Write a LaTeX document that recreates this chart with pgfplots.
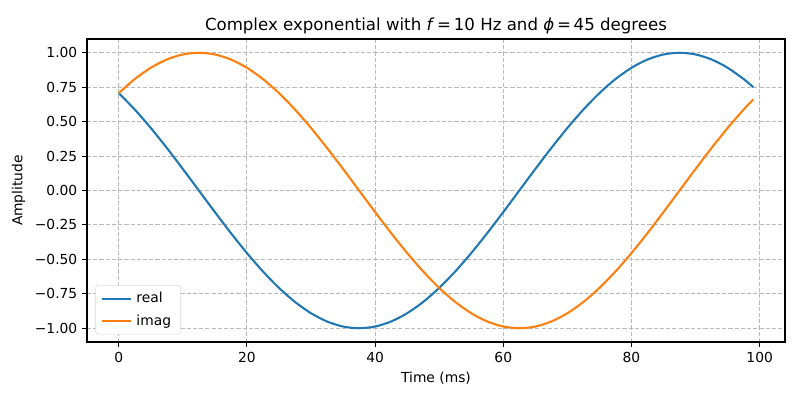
\documentclass[border=0pt]{standalone}
\usepackage{pgfplots}
\pgfplotsset{compat=1.18}
\usepackage{fontspec}
\setmainfont{DejaVu Sans}
\definecolor{tabblue}{HTML}{1F77B4}
\definecolor{taborange}{HTML}{FF7F0E}
\begin{document}
\begin{tikzpicture}
\path (-0.87in,-0.58in) rectangle (7.13in,3.42in);
\begin{axis}[
  at={(0,0)}, anchor=south west,
  scale only axis, width=6.98in, height=3.03in,
  xmin=-4.95, xmax=103.95, ymin=-1.1, ymax=1.1,
  xtick={0,20,40,60,80,100},
  ytick={-1,-0.75,-0.5,-0.25,0,0.25,0.5,0.75,1},
  yticklabels={−1.00,−0.75,−0.50,−0.25,0.00,0.25,0.50,0.75,1.00},
  /pgf/number format/assume math mode=true,
  tick label style={font=\fontsize{10}{12}\selectfont},
  label style={font=\fontsize{10}{12}\selectfont},
  title style={font=\fontsize{12}{14}\selectfont, yshift=-6pt},
  title={Complex exponential with \textit{f}\,=\,10 Hz and \textit{ϕ}\,=\,45 degrees},
  xlabel={Time (ms)}, ylabel={Amplitude},
  tick align=outside, tick pos=lower, major tick length=3.5pt,
  every tick/.style={black, line width=0.8pt},
  axis line style={line width=0.8pt},
  grid=major,
  major grid style={dashed, color=gray!55, line width=0.8pt, dash pattern=on 3pt off 1.5pt},
  legend style={at={(0.012,0.025)}, anchor=south west, draw=gray!30, rounded corners=2pt,
    font=\fontsize{10}{12}\selectfont, inner xsep=4pt, inner ysep=3pt, row sep=3pt,
    nodes={inner xsep=3pt}},
  legend cell align=left,
  legend image code/.code={\draw[#1] (0pt,0pt) -- (21pt,0pt);},
]
\addplot[color=tabblue, line width=1.5pt, smooth, tension=0.5] coordinates {
(0,0.70711)(2.5,0.58779)(5,0.45399)(7.5,0.30902)(10,0.15643)(12.5,0)(15,-0.15643)(17.5,-0.30902)(20,-0.45399)(22.5,-0.58779)
(25,-0.70711)(27.5,-0.80902)(30,-0.89101)(32.5,-0.95106)(35,-0.98769)(37.5,-1)(40,-0.98769)(42.5,-0.95106)(45,-0.89101)(47.5,-0.80902)
(50,-0.70711)(52.5,-0.58779)(55,-0.45399)(57.5,-0.30902)(60,-0.15643)(62.5,0)(65,0.15643)(67.5,0.30902)(70,0.45399)(72.5,0.58779)
(75,0.70711)(77.5,0.80902)(80,0.89101)(82.5,0.95106)(85,0.98769)(87.5,1)(90,0.98769)(92.5,0.95106)(95,0.89101)(97.5,0.80902)(99,0.75011)
};
\addlegendentry{real}
\addplot[color=taborange, line width=1.5pt, smooth, tension=0.5] coordinates {
(0,0.70711)(2.5,0.80902)(5,0.89101)(7.5,0.95106)(10,0.98769)(12.5,1)(15,0.98769)(17.5,0.95106)(20,0.89101)(22.5,0.80902)
(25,0.70711)(27.5,0.58779)(30,0.45399)(32.5,0.30902)(35,0.15643)(37.5,0)(40,-0.15643)(42.5,-0.30902)(45,-0.45399)(47.5,-0.58779)
(50,-0.70711)(52.5,-0.80902)(55,-0.89101)(57.5,-0.95106)(60,-0.98769)(62.5,-1)(65,-0.98769)(67.5,-0.95106)(70,-0.89101)(72.5,-0.80902)
(75,-0.70711)(77.5,-0.58779)(80,-0.45399)(82.5,-0.30902)(85,-0.15643)(87.5,0)(90,0.15643)(92.5,0.30902)(95,0.45399)(97.5,0.58779)(99,0.66131)
};
\addlegendentry{imag}
\end{axis}
\end{tikzpicture}
\end{document}
